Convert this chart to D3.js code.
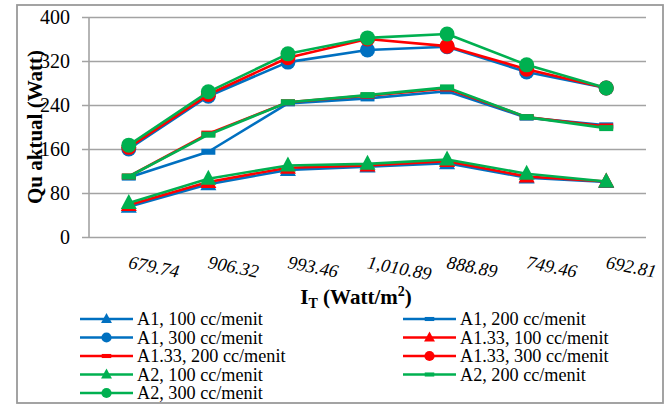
<!DOCTYPE html>
<html>
<head>
<meta charset="utf-8">
<script src="https://cdn.jsdelivr.net/npm/d3@7"></script>
<style>
  html, body { margin: 0; padding: 0; background: #fff; }
  svg { display: block; }
  svg text { font-family: "Liberation Serif", "Times New Roman", Times, serif; }
</style>
</head>
<body>
<svg id="chart" width="672" height="405"></svg>
<script>
const categories = ["679.74", "906.32", "993.46", "1,010.89", "888.89", "749.46", "692.81"];
const yTicks = [0, 80, 160, 240, 320, 400];

const A1_100   = [55, 96, 122, 128, 134, 108, 100];
const A1_200   = [108, 155, 243, 252, 265, 217, 203];
const A1_300   = [160, 256, 318, 340, 346, 300, 271];
const A133_100 = [58, 100, 126, 130, 138, 110, 101];
const A133_200 = [110, 188, 245, 257, 270, 218, 201];
const A133_300 = [163, 259, 326, 360, 347, 305, 271];
const A2_100   = [62, 106, 130, 133, 141, 115, 101];
const A2_200   = [110, 186, 245, 258, 272, 218, 198];
const A2_300   = [167, 264, 333, 362, 369, 313, 271];

const seriesNames = ["A1, 100 cc/menit", "A1, 200 cc/menit", "A1, 300 cc/menit",
  "A1.33, 100 cc/menit", "A1.33, 200 cc/menit", "A1.33, 300 cc/menit",
  "A2, 100 cc/menit", "A2, 200 cc/menit", "A2, 300 cc/menit"];
const seriesValues = [A1_100, A1_200, A1_300, A133_100, A133_200, A133_300, A2_100, A2_200, A2_300];
const seriesColors = ["#0070C0", "#0070C0", "#0070C0", "#FF0000", "#FF0000", "#FF0000", "#00B050", "#00B050", "#00B050"];
const seriesMarkers = ["triangle", "dash", "circle", "triangle", "dash", "circle", "triangle", "dash", "circle"];

const svg = d3.select("#chart");

// outer border
svg.append("rect").attr("x", 17).attr("y", 5).attr("width", 646).attr("height", 398)
  .attr("fill", "#fff").attr("stroke", "#9a9a9a").attr("stroke-width", 1.8);

const x = d3.scalePoint().domain(categories).range([89, 646]).padding(0.5);
const y = d3.scaleLinear().domain([0, 400]).range([237, 17]);

// gridlines + y axis
const yAxis = d3.axisLeft(y).tickValues(yTicks).tickSize(-(646 - 89)).tickSizeOuter(0).tickPadding(12);
const gy = svg.append("g").attr("transform", "translate(89,0)").call(yAxis);
gy.attr("font-family", null).attr("font-size", null);
gy.select(".domain").remove();
gy.selectAll(".tick line").attr("stroke", "#a3a3a3").attr("stroke-width", 1.6).attr("x1", -7);
gy.selectAll(".tick text").attr("font-size", 20).attr("fill", "#000").attr("x", -19);
svg.append("line").attr("x1", 89).attr("x2", 89).attr("y1", y(400)).attr("y2", y(0))
  .attr("stroke", "#a3a3a3").attr("stroke-width", 1.6);

// x tick labels
const gx = svg.append("g");
gx.selectAll("text").data(categories).enter().append("text")
  .attr("transform", d => `translate(${x(d) - 1},268) rotate(11)`)
  .attr("font-style", "italic").attr("font-size", 18.5)
  .attr("fill", "#000").text(d => d);

// axis titles
svg.append("text").attr("transform", "translate(42,127) rotate(-90)")
  .attr("text-anchor", "middle").attr("font-weight", "bold")
  .attr("font-size", 21).attr("fill", "#000").text("Qu aktual (Watt)");

const xt = svg.append("text").attr("x", 356).attr("y", 304).attr("text-anchor", "middle")
  .attr("font-weight", "bold").attr("font-size", 21).attr("fill", "#000");
xt.append("tspan").text("I");
xt.append("tspan").attr("font-size", 14).attr("dy", 4).text("T");
xt.append("tspan").attr("dy", -4).text(" (Watt/m");
xt.append("tspan").attr("font-size", 14).attr("dy", -8).text("2");
xt.append("tspan").attr("dy", 8).text(")");

function drawMarker(g, type, cx, cy, color, s) {
  if (type === "circle") {
    g.append("circle").attr("cx", cx).attr("cy", cy).attr("r", 7.5 * s).attr("fill", color);
  } else if (type === "triangle") {
    const h = 15 * s, w = 16 * s;
    g.append("path").attr("d", `M${cx},${cy - h * 0.6}L${cx + w / 2},${cy + h * 0.4}L${cx - w / 2},${cy + h * 0.4}Z`)
      .attr("fill", color);
  } else {
    const w = 14 * s, h = 6 * s;
    g.append("rect").attr("x", cx - w / 2).attr("y", cy - h / 2).attr("width", w).attr("height", h).attr("fill", color);
  }
}

// series
const line = d3.line().x((d, i) => x(categories[i])).y(d => y(d));
const plot = svg.append("g");
seriesValues.forEach((vals, si) => {
  const g = plot.append("g");
  g.append("path").datum(vals).attr("d", line).attr("fill", "none")
    .attr("stroke", seriesColors[si]).attr("stroke-width", 2.6).attr("stroke-linejoin", "round");
  vals.forEach((v, i) => drawMarker(g, seriesMarkers[si], x(categories[i]), y(v), seriesColors[si], 1));
});

// legend
const legend = svg.append("g");
const colX = [80, 403];
const rowY = [319, 337.5, 356, 374.5, 393];
seriesNames.forEach((name, si) => {
  const col = si % 2, row = Math.floor(si / 2);
  const lx = colX[col], ly = rowY[row];
  const g = legend.append("g");
  g.append("line").attr("x1", lx).attr("x2", lx + 53).attr("y1", ly).attr("y2", ly)
    .attr("stroke", seriesColors[si]).attr("stroke-width", 2.6);
  drawMarker(g, seriesMarkers[si], lx + 26.5, ly, seriesColors[si], 0.68);
  g.append("text").attr("x", lx + 57).attr("y", ly + 6)
    .attr("font-size", 18.2).attr("fill", "#000").text(name);
});
</script>
</body>
</html>
